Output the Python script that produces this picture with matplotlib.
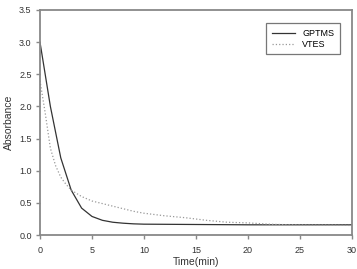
import numpy as np
import matplotlib
matplotlib.use("Agg")
import matplotlib.pyplot as plt

# readings taken from the figure
t_gptms = [0, 1, 2, 3, 4, 5, 6, 7, 8, 9, 10, 15, 20, 25, 30]
a_gptms = [3.0, 2.0, 1.2, 0.7, 0.42, 0.29, 0.23, 0.2, 0.185, 0.175, 0.17, 0.165, 0.16, 0.16, 0.16]

t_vtes = [0, 0.5, 1, 1.5, 2, 2.5, 3, 4, 5, 6, 7, 8, 9, 10, 12, 14, 16, 18, 20, 22, 24, 26, 28, 30]
a_vtes = [2.4, 1.9, 1.35, 1.08, 0.9, 0.79, 0.7, 0.6, 0.53, 0.49, 0.45, 0.41, 0.37, 0.34,
          0.30, 0.27, 0.23, 0.2, 0.19, 0.17, 0.16, 0.155, 0.155, 0.15]

plt.rcParams['font.family'] = ['Liberation Sans', 'DejaVu Sans']

fig = plt.figure(figsize=(3.57, 2.69), dpi=100)
ax = fig.add_axes([0.112, 0.126, 0.874, 0.837])

ax.plot(t_gptms, a_gptms, color='#333333', lw=0.9, label='GPTMS')
ax.plot(t_vtes, a_vtes, color='#999999', lw=0.9, ls=':', label='VTES')

ax.set_xlim(0, 30)
ax.set_ylim(0, 3.5)
ax.set_xticks(np.arange(0, 31, 5))
ax.set_yticks(np.arange(0, 3.51, 0.5))
ax.set_yticklabels(['%.1f' % v for v in np.arange(0, 3.51, 0.5)])

for s in ax.spines.values():
    s.set_color('#888888')
    s.set_linewidth(1.3)
ax.tick_params(direction='out', length=3, width=1, color='#888888',
               labelsize=6.5, labelcolor='#333333', pad=3)
ax.tick_params(axis='x', pad=4.5)

ax.set_xlabel('Time(min)', fontsize=7.5, color='#333333', labelpad=2)
ax.set_ylabel('Absorbance', fontsize=7.5, color='#333333', labelpad=4)

leg = ax.legend(loc='upper right', bbox_to_anchor=(0.975, 0.96), fontsize=6.5,
                frameon=True, fancybox=False, handlelength=2.6,
                borderpad=0.6, labelspacing=0.2, handletextpad=0.8)
leg.get_frame().set_edgecolor('#555555')
leg.get_frame().set_linewidth(0.9)

fig.savefig('out.png', dpi=100)
